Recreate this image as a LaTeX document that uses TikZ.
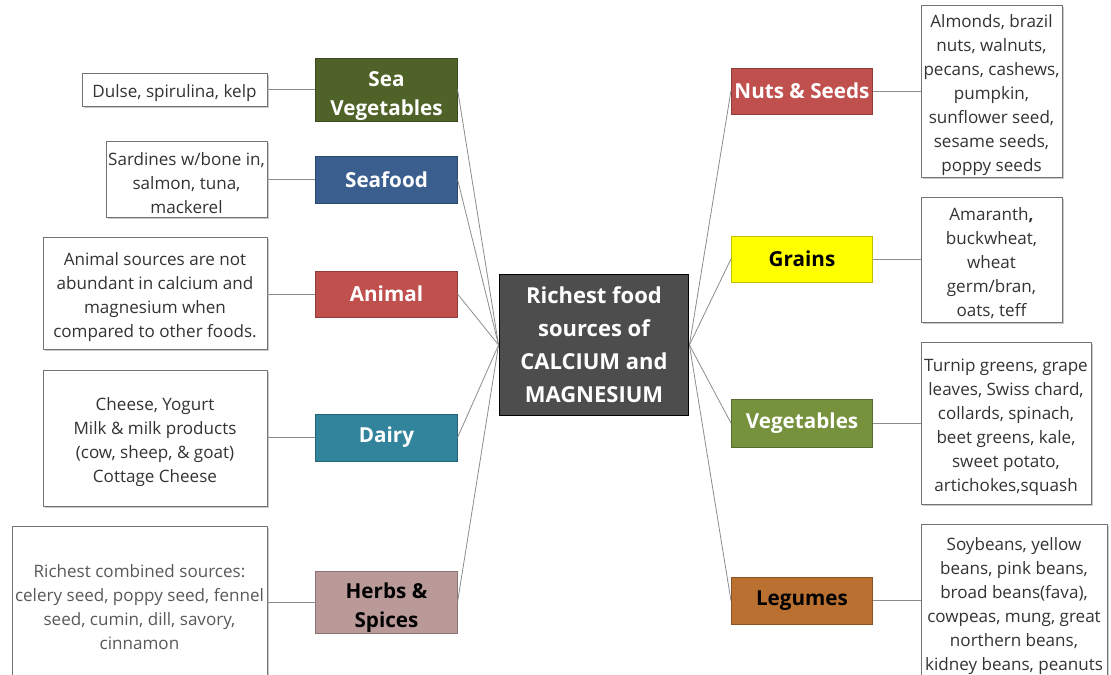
\documentclass[tikz,border=0pt]{standalone}
\usepackage{fontspec}
\setmainfont{Open Sans}
\usetikzlibrary{shadows}
\definecolor{seaveg}{HTML}{4F6228}
\definecolor{seafood}{HTML}{3A5F8F}
\definecolor{animal}{HTML}{C0504D}
\definecolor{dairy}{HTML}{31849B}
\definecolor{herbs}{HTML}{BA9A98}
\definecolor{nuts}{HTML}{C0504D}
\definecolor{grains}{HTML}{FFFF00}
\definecolor{vegs}{HTML}{76923C}
\definecolor{legumes}{HTML}{B97031}
\definecolor{hub}{HTML}{4D4D4D}
\definecolor{wire}{HTML}{8C8C8C}
\begin{document}
\begin{tikzpicture}[x=0.75pt,y=-0.75pt,
  % nlines=n: lowers a block of n centred lines a little inside its box
  nlines/.code={\pgfmathsetmacro\blockht{(#1-1)*18+15.5}%
    \edef\setblockht{\noexpand\tikzset{text height=\blockht pt}}\setblockht},
  detail/.style={draw=black!55, fill=white, line width=0.6pt, align=center,
    inner sep=0pt, text=black!80,
    font=\fontsize{12.8}{18}\selectfont,
    drop shadow={shadow xshift=1.2pt, shadow yshift=-1.2pt, opacity=0.35, fill=black!60}},
  cat/.style={fill=#1, draw=#1!75!black, line width=0.6pt, align=center,
    inner sep=0pt, minimum width=106pt, text=white,
    font=\bfseries\fontsize{15.5}{21.75}\selectfont},
  twoline/.style={text height=42.25pt},
  darktext/.style={text=black},
  link/.style={draw=wire, line width=0.6pt}
]
\useasboundingbox (0,0) rectangle (1111,675);
\clip (0,0) rectangle (1111,675);

% central topic
\node[fill=hub, draw=black, line width=1.4pt, text=white, align=center,
  inner sep=0pt, minimum width=141.75pt, minimum height=105.75pt,
  font=\bfseries\fontsize{16.5}{24.75}\selectfont] (hubbox) at (594,345)
  {Richest food\\sources of\\CALCIUM and\\MAGNESIUM};

% left branches
\node[cat=seaveg, twoline, minimum height=47.25pt] (seaveg) at (386.5,89.5) {Sea\\Vegetables};
\node[cat=seafood, minimum height=35.25pt] (seafood) at (386.5,179.5) {Seafood};
\node[cat=animal, minimum height=34.5pt] (animal) at (386.5,294) {Animal};
\node[cat=dairy, minimum height=35.25pt] (dairy) at (386.5,437.5) {Dairy};
\node[cat=herbs, darktext, twoline, minimum height=46.5pt] (herbs) at (386.5,602) {Herbs \&\\Spices};

% right branches
\node[cat=nuts, minimum height=34.5pt] (nuts) at (802,91) {Nuts \& Seeds};
\node[cat=grains, darktext, minimum height=34.5pt] (grains) at (802,259) {Grains};
\node[cat=vegs, minimum height=36pt] (vegs) at (802,423) {Vegetables};
\node[cat=legumes, darktext, minimum height=35.25pt] (legumes) at (802,600.5) {Legumes};

% left details
\node[detail, nlines=1, minimum width=138.75pt, minimum height=24.75pt] (dseaveg) at (174.5,89.5)
  {Dulse, spirulina, kelp};
\node[detail, nlines=3, minimum width=120.75pt, minimum height=57pt] (dseafood) at (186.5,179)
  {Sardines w/bone in,\\salmon, tuna,\\mackerel};
\node[detail, nlines=4, minimum width=168pt, minimum height=84pt] (danimal) at (155,293)
  {Animal sources are not\\abundant in calcium and\\magnesium when\\compared to other foods.};
\node[detail, nlines=4, minimum width=168pt, minimum height=102pt] (ddairy) at (155,438)
  {Cheese, Yogurt\\Milk \& milk products\\(cow, sheep, \& goat)\\Cottage Cheese};
\node[detail, nlines=4, text=black!65, minimum width=191.25pt, minimum height=115.5pt] (dherbs) at (139.5,603)
  {Richest combined sources:\\celery seed, poppy seed, fennel\\seed, cumin, dill, savory,\\cinnamon};

% right details
\node[detail, nlines=7, minimum width=105.75pt, minimum height=129pt] (dnuts) at (991.5,91)
  {Almonds, brazil\\nuts, walnuts,\\pecans, cashews,\\pumpkin,\\sunflower seed,\\sesame seeds,\\poppy seeds};
\node[detail, nlines=5, minimum width=105.75pt, minimum height=93.75pt] (dgrains) at (991.5,259.5)
  {Amaranth{\bfseries,}\\buckwheat,\\wheat\\germ/bran,\\oats, teff};
\node[detail, nlines=6, minimum width=127.5pt, minimum height=121.5pt] (dvegs) at (1006,423)
  {Turnip greens, grape\\leaves, Swiss chard,\\collards, spinach,\\beet greens, kale,\\sweet potato,\\artichokes,squash};
\node[detail, nlines=6, minimum width=139.5pt, minimum height=117pt] (dlegumes) at (1014,602)
  {Soybeans, yellow\\beans, pink beans,\\broad beans(fava),\\cowpeas, mung, great\\northern beans,\\kidney beans, peanuts};

% spokes from the central topic
\foreach \c in {seaveg,seafood,animal,dairy,herbs}
  \draw[link] (hubbox.west) -- (\c.east);
\foreach \c in {nuts,grains,vegs,legumes}
  \draw[link] (hubbox.east) -- (\c.west);

% branch to detail links
\foreach \c in {seaveg,seafood,animal,dairy,herbs}
  \draw[link] (\c.west) -- (d\c.east |- \c.west);
\foreach \c in {nuts,grains,vegs,legumes}
  \draw[link] (\c.east) -- (d\c.west |- \c.east);
\end{tikzpicture}
\end{document}
